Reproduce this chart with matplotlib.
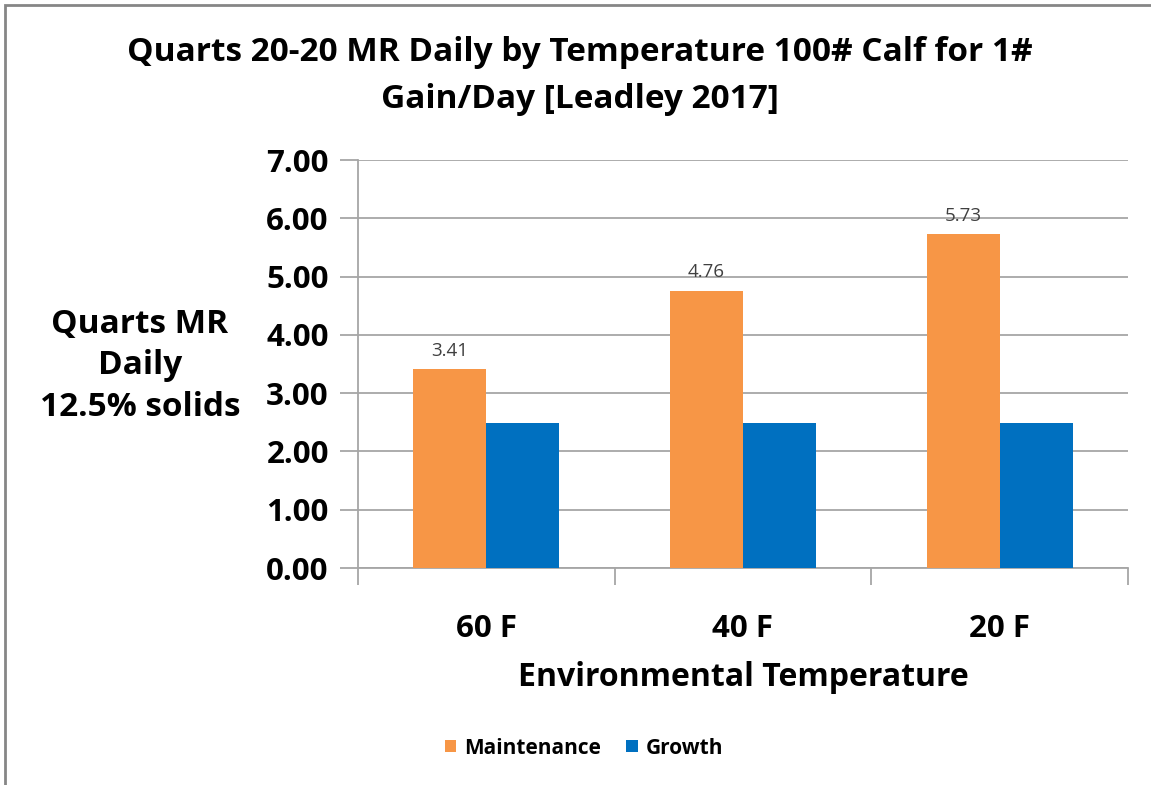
import numpy as np
import matplotlib
matplotlib.use('Agg')
import matplotlib.pyplot as plt
from matplotlib.patches import Rectangle

# Chart data.
categories = ['60 F', '40 F', '20 F']
maintenance = [3.41, 4.76, 5.73]
growth = [2.49, 2.49, 2.49]
yTicks = [0, 1, 2, 3, 4, 5, 6, 7]

orange = '#F79646'
blue = '#0070C0'
gridColor = '#A6A6A6'

plt.rcParams['font.family'] = ['Open Sans', 'DejaVu Sans']

fig = plt.figure(figsize=(11.51, 7.85), dpi=100)
ax = fig.add_axes([358/1151, 1 - 568/785, (1128-358)/1151, (568-160)/785])

x = np.arange(len(categories))
barWidth = 0.284
ax.bar(x - barWidth/2, maintenance, barWidth, color=orange, label='Maintenance', zorder=3)
ax.bar(x + barWidth/2, growth, barWidth, color=blue, label='Growth', zorder=3)

# Value labels above the maintenance bars.
for xi, v in zip(x, maintenance):
  ax.text(xi - barWidth/2, v + 0.16, '%.2f' % v, ha='center', va='bottom',
      fontsize=13.5, color='#404040')

ax.set_xlim(-0.5, len(categories) - 0.5)
ax.set_ylim(0, 7)
ax.set_yticks(yTicks)
ax.set_yticklabels(['%.2f' % t for t in yTicks], fontsize=22.5, fontweight='bold')
ax.yaxis.grid(True, color=gridColor, linewidth=1.3, zorder=0)

# Category labels between boundary ticks.
ax.set_xticks(x)
ax.set_xticklabels(categories, fontsize=22.5, fontweight='bold')
ax.tick_params(axis='x', length=0, pad=33)
ax.set_xticks(np.arange(len(categories) + 1) - 0.5, minor=True)
ax.tick_params(axis='x', which='minor', length=12, color=gridColor, width=1.3)
ax.tick_params(axis='y', length=13, color=gridColor, width=1.3, pad=8)

for side in ['top', 'right']:
  ax.spines[side].set_visible(False)
for side in ['left', 'bottom']:
  ax.spines[side].set_color(gridColor)
  ax.spines[side].set_linewidth(1.3)

ax.set_xlabel('Environmental Temperature', fontsize=23, fontweight='bold',
    labelpad=12)
fig.text(140/1151, 1 - 366/785, 'Quarts MR\nDaily\n12.5% solids', ha='center',
    va='center', fontsize=24, fontweight='bold', linespacing=1.32)

fig.text(580/1151, 1 - 76/785,
    'Quarts 20-20 MR Daily by Temperature 100# Calf for 1#\nGain/Day [Leadley 2017]',
    ha='center', va='center', fontsize=24, fontweight='bold', linespacing=1.55)

# Legend at the bottom.
lgd = fig.legend(loc='center', bbox_to_anchor=(584/1151, 1 - 748/785), ncol=2,
    frameon=False, prop={'size': 15, 'weight': 'bold'}, handlelength=0.55,
    handleheight=0.55, columnspacing=1.2, handletextpad=0.4)

# Outer chart border.
fig.patches.append(Rectangle((5/1151, -0.01), 1.02, 1 - 5/785 + 0.01,
    transform=fig.transFigure, fill=False, edgecolor='#868686', linewidth=2))

fig.savefig('out.png', dpi=100, facecolor='white')
